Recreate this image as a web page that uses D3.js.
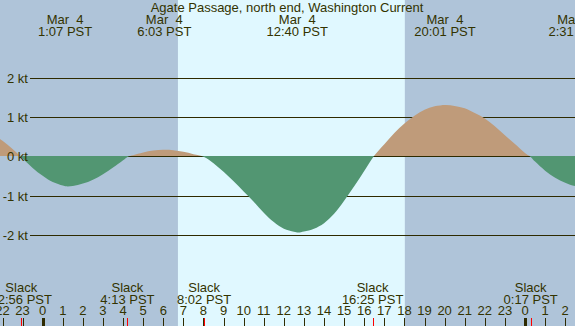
<!DOCTYPE html>
<html><head><meta charset="utf-8">
<script src="https://cdn.jsdelivr.net/npm/d3@7"></script>
<style>
html,body{margin:0;padding:0;background:#fff;}
svg{display:block;}
text{font-family:"Liberation Sans",Arial,sans-serif;font-size:13px;fill:#333300;white-space:pre;}
</style></head>
<body>
<script>
// ---- data (hours relative to Mar 4 00:00 PST) ----
const title = "Agate Passage, north end, Washington Current";
const curveTimes = [-2.5,-2.0,-1.5,-1.07,-0.5,0,0.5,1.0,1.17,1.5,2.0,2.5,3.0,3.5,4.0,4.22,4.5,5.0,5.5,6.0,6.5,7.0,7.5,8.03,8.5,9.0,9.5,10.0,10.5,11.0,11.5,12.0,12.5,12.72,13.0,13.5,14.0,14.5,15.0,15.5,16.0,16.45,17.0,17.5,18.0,18.5,19.0,19.5,20.05,20.5,21.0,21.5,22.0,22.5,23.0,23.5,24.0,24.28,24.5,25.0,25.5,26.0,26.5,27.0];
const curveKnots = [0.60,0.41,0.20,0,-0.28,-0.48,-0.64,-0.73,-0.75,-0.74,-0.68,-0.58,-0.44,-0.27,-0.085,0,0.04,0.11,0.16,0.18,0.17,0.13,0.07,0,-0.16,-0.38,-0.62,-0.88,-1.14,-1.42,-1.66,-1.83,-1.905,-1.925,-1.90,-1.83,-1.69,-1.45,-1.12,-0.75,-0.36,0,0.32,0.61,0.85,1.05,1.20,1.29,1.325,1.30,1.24,1.12,0.98,0.78,0.55,0.33,0.10,0,-0.12,-0.35,-0.53,-0.66,-0.745,-0.73];
const maxTimes = [1.117, 6.05, 12.667, 20.017, 26.517];
const maxDates = ["Mar  4","Mar  4","Mar  4","Mar  4","Mar  5"];
const maxLabels = ["1:07 PST","6:03 PST","12:40 PST","20:01 PST","2:31 PST"];
const slackTimes = [-1.067, 4.217, 8.033, 16.417, 24.283];
const slackLabels = ["22:56 PST","4:13 PST","8:02 PST","16:25 PST","0:17 PST"];
const dayStart = 6.73, dayEnd = 18.02;
const yTicks = [2,1,0,-1,-2];
const yTickLabels = ["2 kt","1 kt","0 kt","-1 kt","-2 kt"];
const hourTicks = d3.range(-2, 27);
const midnightTicks = [0, 24];

const W = 575, H = 326;
const x = d3.scaleLinear().domain([0,24]).range([42.7, 525.0]);
const y = d3.scaleLinear().domain([-2,2]).range([235.4,78.4]);
const y0px = Math.floor(y(0));

const svg = d3.select("body").append("svg").attr("width",W).attr("height",H);
const defs = svg.append("defs");
defs.append("clipPath").attr("id","above").append("rect").attr("x",0).attr("y",0).attr("width",W).attr("height",y0px);
defs.append("clipPath").attr("id","below").append("rect").attr("x",0).attr("y",y0px).attr("width",W).attr("height",H-y0px);

// background night / day
svg.append("rect").attr("x",0).attr("y",0).attr("width",W).attr("height",H).attr("fill","#afc4d9");
svg.append("rect").attr("x",x(dayStart)).attr("y",0).attr("width",x(dayEnd)-x(dayStart)).attr("height",H).attr("fill","#e0f8ff");

// gridlines
svg.selectAll("line.grid").data(yTicks).enter().append("line")
  .attr("x1",30).attr("x2",W)
  .attr("y1",d=>Math.floor(y(d))+0.5).attr("y2",d=>Math.floor(y(d))+0.5)
  .attr("stroke","#2e2a00").attr("stroke-width",1);

const pts = curveTimes.map((t,i)=>({t, v:curveKnots[i]}));
const area = d3.area().curve(d3.curveCatmullRom.alpha(0.5))
  .x(d=>x(d.t)).y0(y0px).y1(d=>y(d.v));
svg.append("path").attr("d",area(pts)).attr("fill","#bf9b7a").attr("clip-path","url(#above)");
svg.append("path").attr("d",area(pts)).attr("fill","#529672").attr("clip-path","url(#below)");

// y labels
svg.selectAll("text.yl").data(yTicks).enter().append("text")
  .attr("x",28).attr("y",(d)=>Math.floor(y(d))+5)
  .attr("text-anchor","end").text((d,i)=>yTickLabels[i]);

// title
svg.append("text").attr("x",287).attr("y",12).attr("text-anchor","middle").text(title);

// max labels
maxTimes.forEach((t,i)=>{
  svg.append("text").attr("x",x(t)).attr("y",24).attr("text-anchor","middle").text(maxDates[i]);
  svg.append("text").attr("x",x(t)).attr("y",36).attr("text-anchor","middle").text(maxLabels[i]);
});

// slack labels
slackTimes.forEach((t,i)=>{
  svg.append("text").attr("x",x(t)).attr("y",292).attr("text-anchor","middle").text("Slack");
  svg.append("text").attr("x",x(t)).attr("y",304).attr("text-anchor","middle").text(slackLabels[i]);
});

// hour axis
svg.selectAll("text.hr").data(hourTicks).enter().append("text")
  .attr("x",d=>x(d)).attr("y",315).attr("text-anchor","middle")
  .text(d=>String(((d%24)+24)%24));
svg.selectAll("line.hr").data(hourTicks).enter().append("line")
  .attr("x1",d=>Math.round(x(d))+0.5).attr("x2",d=>Math.round(x(d))+0.5)
  .attr("y1",318).attr("y2",H).attr("stroke","#2e2a00").attr("stroke-width",1);
svg.selectAll("rect.mid").data(midnightTicks).enter().append("rect")
  .attr("x",d=>Math.round(x(d))-1).attr("y",318).attr("width",3).attr("height",H-318).attr("fill","#2e2a00");
svg.selectAll("line.sl").data(slackTimes).enter().append("line")
  .attr("x1",d=>Math.round(x(d))+0.5).attr("x2",d=>Math.round(x(d))+0.5)
  .attr("y1",318).attr("y2",H).attr("stroke","#ff0000").attr("stroke-width",1);
</script>
</body></html>
